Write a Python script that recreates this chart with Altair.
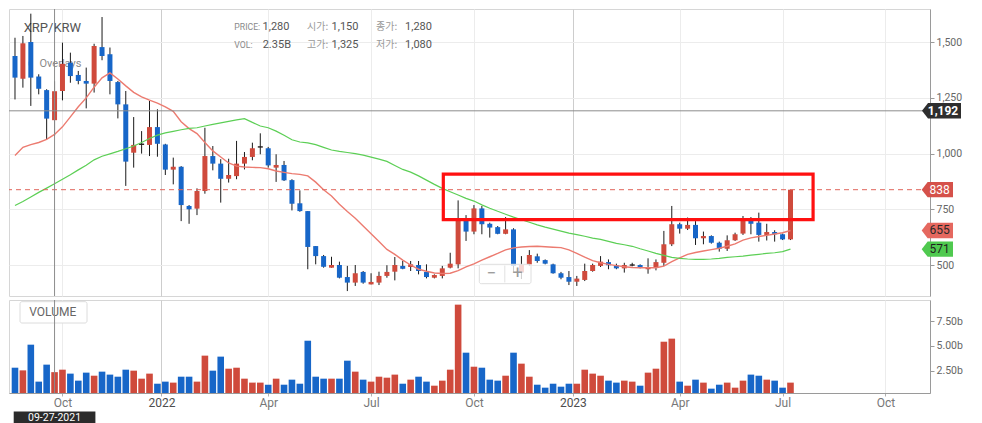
import altair as alt
import pandas as pd

# ---------------- data (weekly XRP/KRW) ----------------
start_date = "2021-08-23"

opens = [1438, 1336, 1501, 1346, 1285, 1150, 1281, 1408, 1353, 1326,
         1314, 1478, 1446, 1321, 1221, 1004, 1040, 1039, 1119, 1041,
         928, 941, 765, 753, 832, 989, 955, 887, 899, 955,
         985, 1029, 1024, 937, 949, 881, 777, 742, 585, 540,
         488, 500, 446, 421, 469, 413, 421, 451, 470, 496,
         491, 500, 469, 443, 451, 488, 503, 705, 650, 754,
         685, 670, 640, 660, 466, 503, 539, 522, 503, 463,
         446, 425, 433, 473, 496, 513, 499, 485, 499, 500,
         481, 491, 510, 593, 683, 663, 680, 620, 630, 600,
         573, 611, 641, 700, 690, 635, 648, 638, 615]
highs = [1520, 1528, 1628, 1356, 1289, 1325, 1498, 1453, 1371, 1386,
         1493, 1613, 1476, 1326, 1281, 1164, 1101, 1236, 1199, 1044,
         982, 944, 769, 844, 1116, 1034, 975, 977, 1057, 1007,
         1049, 1091, 1030, 997, 967, 885, 835, 742, 585, 545,
         537, 515, 496, 500, 473, 463, 470, 499, 536, 518,
         518, 518, 503, 458, 496, 555, 790, 724, 769, 765,
         690, 675, 715, 665, 540, 567, 551, 525, 506, 469,
         473, 451, 506, 506, 540, 525, 506, 510, 510, 503,
         530, 525, 653, 765, 690, 713, 697, 650, 633, 605,
         633, 645, 720, 715, 735, 685, 656, 641, 838]
lows = [1243, 1296, 1214, 1266, 1064, 1080, 1239, 1318, 1311, 1203,
        1274, 1419, 1266, 1158, 855, 937, 1000, 989, 986, 904,
        862, 697, 685, 724, 820, 925, 780, 870, 885, 929,
        970, 997, 937, 873, 877, 745, 739, 481, 503, 488,
        488, 440, 383, 406, 416, 413, 410, 443, 431, 481,
        473, 458, 440, 440, 440, 485, 485, 608, 638, 638,
        623, 638, 638, 466, 437, 496, 510, 503, 461, 436,
        410, 406, 428, 470, 491, 481, 481, 466, 494, 485,
        461, 476, 496, 585, 641, 657, 590, 593, 596, 560,
        563, 608, 635, 638, 605, 610, 605, 612, 612]
closes = [1341, 1495, 1341, 1291, 1157, 1280, 1403, 1348, 1326, 1314,
          1483, 1438, 1326, 1221, 964, 1039, 1042, 1119, 1044, 928,
          941, 769, 750, 832, 989, 955, 887, 904, 955, 985,
          1024, 1030, 947, 949, 880, 775, 742, 581, 540, 492,
          500, 443, 421, 463, 421, 424, 451, 469, 500, 483,
          503, 473, 446, 455, 485, 506, 705, 650, 754, 683,
          668, 640, 660, 496, 500, 545, 518, 506, 463, 443,
          425, 439, 473, 500, 515, 499, 485, 500, 500, 488,
          491, 513, 593, 683, 663, 680, 620, 630, 600, 573,
          611, 638, 700, 685, 635, 648, 638, 615, 838]
volumes_b = [2.80, 2.53, 5.13, 1.39, 3.11, 2.35, 2.60, 2.20, 1.49, 2.30,
             1.99, 2.40, 2.10, 1.89, 2.60, 2.50, 1.69, 2.20, 1.18, 1.39,
             1.29, 1.89, 1.89, 1.39, 4.02, 2.50, 3.92, 2.70, 2.80, 1.69,
             1.29, 1.29, 1.08, 1.69, 1.08, 1.59, 1.18, 5.53, 1.89, 1.69,
             1.69, 1.69, 3.51, 2.40, 1.59, 1.39, 1.89, 1.79, 2.10, 1.18,
             1.59, 1.89, 1.39, 0.98, 1.49, 2.60, 9.18, 4.32, 2.90, 2.80,
             1.59, 1.49, 1.99, 4.32, 3.21, 1.89, 1.08, 0.78, 1.18, 0.88,
             1.18, 1.18, 2.60, 2.20, 1.99, 1.49, 1.29, 1.49, 1.39, 0.98,
             2.30, 2.70, 5.43, 5.74, 1.39, 0.98, 1.59, 1.29, 0.68, 1.08,
             1.29, 0.78, 1.49, 2.10, 1.99, 1.59, 1.49, 0.78, 1.29]
ma_short = [992, 1028, 1040, 1050, 1064, 1086, 1120, 1165, 1210, 1250,
            1298, 1340, 1362, 1335, 1304, 1275, 1255, 1240, 1227, 1210,
            1190, 1143, 1112, 1090, 1050, 1012, 985, 958, 944, 940,
            938, 937, 932, 922, 916, 910, 907, 900, 872, 838,
            810, 773, 740, 710, 675, 640, 605, 570, 548, 522,
            500, 481, 472, 464, 462, 463, 475, 492, 505, 522,
            537, 552, 568, 577, 581, 583, 584, 582, 580, 578,
            568, 552, 535, 520, 510, 503, 497, 492, 489, 488,
            488, 488, 495, 515, 532, 548, 556, 563, 569, 575,
            584, 595, 612, 622, 628, 633, 639, 645, 655]
ma_long = [767, 785, 805, 826, 845, 865, 885, 905, 927, 948,
           972, 988, 999, 1010, 1022, 1034, 1050, 1068, 1083, 1093,
           1100, 1107, 1113, 1116, 1124, 1131, 1138, 1145, 1151, 1157,
           1140, 1124, 1116, 1101, 1082, 1062, 1052, 1048, 1040, 1028,
           1016, 1010, 1005, 1000, 993, 984, 975, 965, 947, 929,
           917, 900, 881, 862, 844, 829, 814, 799, 787, 770,
           755, 741, 728, 715, 703, 692, 680, 670, 661, 652,
           643, 636, 629, 621, 615, 606, 597, 591, 584, 573,
           563, 552, 543, 534, 530, 527, 525, 525, 527, 530,
           534, 537, 540, 544, 548, 552, 555, 560, 571]

hover_index = 5          # candle under the crosshair (09-27-2021)
cross_price = 1192       # horizontal crosshair level
box_dates = ["2022-09-05T21:30:00", "2023-07-30T00:00:00"]
box_prices = [704, 908]
tick_dates = [(2021, 10, 4, 0), (2021, 12, 30, 12), (2022, 4, 4, 0), (2022, 7, 4, 0),
              (2022, 10, 3, 0), (2022, 12, 29, 12), (2023, 4, 3, 0), (2023, 7, 3, 0),
              (2023, 10, 2, 0)]
price_ticks = [500, 750, 1000, 1250, 1500]
vol_ticks = [2.5, 5, 7.5]

# ---------------- tables ----------------
n = len(opens)
dates = [(pd.Timestamp(start_date) + pd.Timedelta(weeks=i)).strftime("%Y-%m-%dT%H:%M:%S") for i in range(n)]
df = pd.DataFrame({"date": dates, "open": opens, "high": highs, "low": lows,
                   "close": closes, "vol": volumes_b, "ma_a": ma_short, "ma_b": ma_long})
df["dir"] = ["up" if c >= o else "down" for o, c in zip(opens, closes)]
one = pd.DataFrame({"k": [0]})

RED = "#cf4a3c"
BLUE = "#1766c8"
W, H1, H2 = 921, 287, 93

xscale = alt.Scale(domain=[alt.DateTime(year=2021, month=8, date=22, hours=3),
                           alt.DateTime(year=2023, month=11, date=6, hours=0)])
tick_vals = [alt.DateTime(year=y, month=m, date=d, hours=h) for (y, m, d, h) in tick_dates]
grid_cond = {"condition": {"test": "month(datum.value) == 11", "value": "#cdcdcd"}, "value": "#ececec"}
label_cond = {"condition": {"test": "month(datum.value) == 11", "value": "#4d4d4d"}, "value": "#777777"}
label_expr = "month(datum.value) == 11 ? timeFormat(time(datum.value) + 432000000, '%Y') : timeFormat(datum.value, '%b')"

price_xaxis = alt.Axis(values=tick_vals, labels=False, ticks=False, domain=False, grid=True,
                       gridColor=grid_cond, title=None)
vol_xaxis = alt.Axis(values=tick_vals, labelExpr=label_expr, grid=True, gridColor=grid_cond,
                     domainColor="#9a9a9a", tickColor="#b0b0b0", tickSize=3, labelPadding=1,
                     labelFont="Roboto", labelFontSize=12, labelColor=label_cond,
                     labelFlush=False, labelOverlap=False, title=None)

yscale = alt.Scale(domain=[360.9, 1649.0], nice=False, zero=False)
price_yaxis = alt.Axis(orient="right", values=price_ticks, labelExpr="format(datum.value, ',')",
                       grid=True, gridColor="#ececec",
                       domainColor="#9a9a9a", tickColor="#9a9a9a", tickSize=4, labelPadding=2,
                       labelColor="#666666", labelFont="Roboto", labelFontSize=10.5,
                       labelOverlap=False, labelFlush=False, title=None)
vscale = alt.Scale(domain=[0.24, 9.65], nice=False, zero=False)
vol_yaxis = alt.Axis(orient="right", values=vol_ticks, labelExpr="format(datum.value, '.2f') + 'b'",
                     grid=False, domainColor="#9a9a9a", tickColor="#9a9a9a", tickSize=4,
                     labelPadding=2, labelColor="#666666", labelFont="Roboto", labelFontSize=10.5,
                     labelOverlap=False, labelFlush=False, title=None)

dir_color = alt.Color("dir:N", scale=alt.Scale(domain=["up", "down"], range=[RED, BLUE]), legend=None)


def PX(field="date:T"):
    return alt.X(field, scale=xscale, axis=price_xaxis)


def PY(field):
    return alt.Y(field, scale=yscale, axis=price_yaxis)


def txt(t, x, y, size, color, align="left", font="Roboto", weight="normal"):
    return alt.Chart(one).mark_text(text=t, align=align, baseline="middle", font=font,
                                    fontSize=size, color=color, fontWeight=weight).encode(
        x=alt.value(x), y=alt.value(y))


# ---------------- price panel ----------------
hov = df.iloc[hover_index]
texts = [
    txt("XRP/KRW", 14.7, 19, 13, "#555555"),
    alt.Chart(one).mark_point(shape="triangle-right", filled=True, size=16, color="#1e74e6",
                              opacity=1).encode(x=alt.value(21.5), y=alt.value(54.5)),
    txt("Overlays", 30.5, 54.5, 11, "#8a8a8a"),
    txt("PRICE:", 225.3, 17.7, 8.7, "#8a8a8a"),
    txt(f"{int(hov['close']):,}", 280.5, 17.7, 11, "#555555", align="right"),
    txt("시가:", 298, 17.7, 10, "#999999", font="Noto Sans CJK KR"),
    txt(f"{int(hov['open']):,}", 349.5, 17.7, 11, "#555555", align="right"),
    txt("종가:", 367, 17.7, 10, "#999999", font="Noto Sans CJK KR"),
    txt(f"{int(hov['close']):,}", 423, 17.7, 11, "#555555", align="right"),
    txt("VOL:", 225.3, 36, 8.7, "#8a8a8a"),
    txt(f"{hov['vol']:.2f}B", 282, 36, 11, "#555555", align="right"),
    txt("고가:", 298, 36, 10, "#999999", font="Noto Sans CJK KR"),
    txt(f"{int(hov['high']):,}", 349.5, 36, 11, "#555555", align="right"),
    txt("저가:", 367, 36, 10, "#999999", font="Noto Sans CJK KR"),
    txt(f"{int(hov['low']):,}", 423, 36, 11, "#555555", align="right"),
]

base = alt.Chart(df)
wicks = base.mark_rule(color="#1a1a1a", strokeWidth=1, clip=True).encode(
    x=PX(), y=PY("low:Q"), y2="high:Q")
bodies = base.mark_bar(size=5, clip=True).encode(
    x=PX(), y=PY("open:Q"), y2="close:Q", color=dir_color)
doji = base.transform_filter("abs(datum.close - datum.open) < 4").mark_rule(
    color="#1a1a1a", strokeWidth=1.3, xOffset=-2.5, x2Offset=2.5, clip=True).encode(
    x=PX(), x2="date:T", y=PY("close:Q"))
line_a = base.mark_line(color="#ec7b70", strokeWidth=1.4, clip=True).encode(x=PX(), y=PY("ma_a:Q"))
line_b = base.mark_line(color="#5ccf55", strokeWidth=1.2, clip=True).encode(x=PX(), y=PY("ma_b:Q"))

last_df = pd.DataFrame({"p": [closes[-1]]})
dashed = alt.Chart(last_df).mark_rule(color="#e0655c", strokeDash=[5, 4], strokeWidth=1).encode(y=PY("p:Q"))
cross_df = pd.DataFrame({"p": [cross_price], "d": [dates[hover_index]]})
cross_h = alt.Chart(cross_df).mark_rule(color="#8c8c8c", strokeWidth=1).encode(y=PY("p:Q"))
cross_v = alt.Chart(cross_df).mark_rule(color="#8c8c8c", strokeWidth=1).encode(x=PX("d:T"))

box_df = pd.DataFrame({"d1": [box_dates[0]], "d2": [box_dates[1]], "p1": [box_prices[0]], "p2": [box_prices[1]]})
red_box = alt.Chart(box_df).mark_rect(fillOpacity=0, stroke="#ff1010", strokeWidth=3.2).encode(
    x=PX("d1:T"), x2="d2:T", y=PY("p1:Q"), y2="p2:Q")

zoom_box = alt.Chart(one).mark_rect(fill="white", fillOpacity=0.78, stroke="#dedede",
                                    strokeWidth=1, cornerRadius=2).encode(
    x=alt.value(470.3), x2=alt.value(522), y=alt.value(255.3), y2=alt.value(274.7))
zoom_sep = alt.Chart(one).mark_rule(color="#e2e2e2", strokeWidth=1).encode(
    x=alt.value(495.8), y=alt.value(256.5), y2=alt.value(273.5))
zoom_minus = txt("\u2212", 482.7, 265, 17, "#9a9a9a", align="center")
zoom_plus = txt("+", 508.7, 265, 18, "#9a9a9a", align="center")

SMALL_TAG = "M-1,0L-0.62,-0.49L1,-0.49L1,0.49L-0.62,0.49Z"
BIG_TAG = "M-1,0L-0.69,-0.4L1,-0.4L1,0.4L-0.69,0.4Z"
tag_df = pd.DataFrame({"v": [closes[-1], ma_short[-1], ma_long[-1]],
                       "fill": ["#d5514a", "#e5685f", "#4fc94f"],
                       "tc": ["#ffffff", "#2a2a2a", "#1f1f1f"]})
tag_df["t"] = [f"{v:,}" for v in tag_df["v"]]
tags = alt.Chart(tag_df).mark_point(shape=SMALL_TAG, filled=True, size=980, opacity=1,
                                    strokeWidth=0).encode(
    x=alt.value(928.35), y=PY("v:Q"), color=alt.Color("fill:N", scale=None))
tag_txt = alt.Chart(tag_df).mark_text(font="Roboto", fontSize=12, align="center",
                                      baseline="middle").encode(
    x=alt.value(930.5), y=PY("v:Q"), text="t:N", color=alt.Color("tc:N", scale=None))
ctag_df = pd.DataFrame({"v": [cross_price], "t": [f"{cross_price:,}"]})
ctag = alt.Chart(ctag_df).mark_point(shape=BIG_TAG, filled=True, size=1521, opacity=1,
                                     strokeWidth=0, color="#2e2e2e").encode(
    x=alt.value(932.5), y=PY("v:Q"))
ctag_txt = alt.Chart(ctag_df).mark_text(font="Roboto", fontSize=12, fontWeight="bold",
                                        align="center", baseline="middle", color="white").encode(
    x=alt.value(934), y=PY("v:Q"), text="t:N")

price = alt.layer(
    *texts, wicks, bodies, doji, line_a, line_b, dashed, cross_h, cross_v,
    red_box, zoom_box, zoom_sep, zoom_minus, zoom_plus, tags, tag_txt, ctag, ctag_txt
).properties(width=W, height=H1)

# ---------------- volume panel ----------------
def VX(field="date:T"):
    return alt.X(field, scale=xscale, axis=vol_xaxis)


vol_box = alt.Chart(one).mark_rect(fill="white", stroke="#dcdcdc", strokeWidth=1, cornerRadius=2).encode(
    x=alt.value(11), x2=alt.value(78), y=alt.value(1.7), y2=alt.value(23))
vol_label = txt("VOLUME", 20.3, 12, 12, "#666666")
vol_bars = base.mark_bar(size=6.6, clip=True).encode(
    x=VX(), y=alt.Y("vol:Q", scale=vscale, axis=vol_yaxis), y2=alt.value(H2), color=dir_color)
vcross = alt.Chart(cross_df).mark_rule(color="#8c8c8c", strokeWidth=1).encode(x=VX("d:T"))
date_tag = alt.Chart(cross_df).mark_point(shape="M-1,-0.16L1,-0.16L1,0.16L-1,0.16Z", filled=True,
                                          size=6675, opacity=1, strokeWidth=0, color="#2b2b2b").encode(
    x=VX("d:T"), y=alt.value(118))
date_txt = alt.Chart(cross_df).mark_text(font="Roboto", fontSize=10.5, color="white",
                                         align="center", baseline="middle").encode(
    x=VX("d:T"), y=alt.value(118), text=alt.Text("d:T", format="%m-%d-%Y"))

volume = alt.layer(vol_box, vol_label, vol_bars, vcross, date_tag, date_txt).properties(width=W, height=H2)

chart = alt.vconcat(price, volume, spacing=2).properties(
    padding=0, background="white"
).configure_view(stroke="#d6d6d6", strokeWidth=1)

chart.save("out.html", embed_options={"renderer": "svg", "actions": False})
